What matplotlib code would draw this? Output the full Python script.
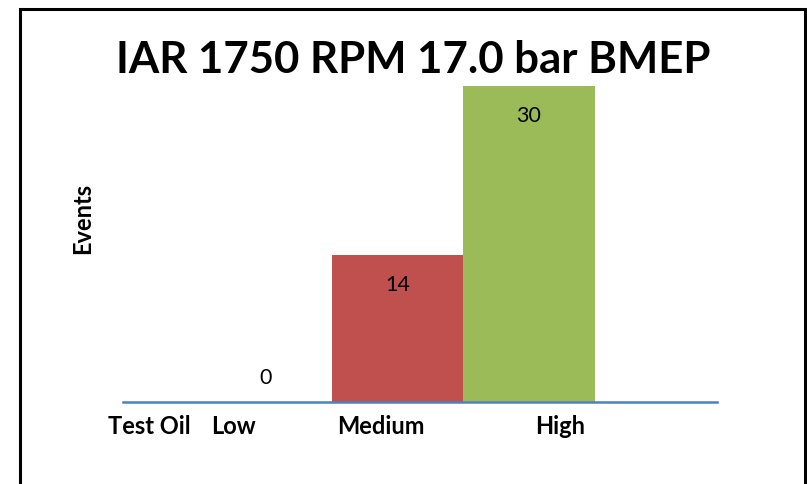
import matplotlib
matplotlib.use("Agg")
import matplotlib.pyplot as plt
from matplotlib.patches import Rectangle

categories = ["Low", "Medium", "High"]
events = [0, 14, 30]
bar_colors = ["#4f81bd", "#c0504d", "#9bbb59"]
chart_title = "IAR 1750 RPM 17.0 bar BMEP"
y_label = "Events"
x_caption = "Test Oil"
# tick labels sit a bit off the bar centres
label_shift = [-0.25, -0.13, 0.24]

plt.rcParams["font.family"] = ["Lato", "DejaVu Sans"]

W, H = 807, 484
fig = plt.figure(figsize=(W / 100, H / 100), dpi=100)

# axes box in pixels: left 123, right 717, bottom (baseline) 402, top 86
ax = fig.add_axes([123 / W, 1 - 402 / H, (717 - 123) / W, (402 - 86) / H])
spacing = 131.5
ax.set_xlim(-(266 - 123) / spacing, (717 - 266) / spacing)
ax.set_ylim(0, 30)

x = list(range(len(categories)))
ax.bar(x, events, width=1.0, color=bar_colors, zorder=2)

for xi, v in zip(x, events):
    off = -30 if v > 0 else 24
    ax.annotate(str(v), (xi, v), xytext=(0, off * 0.72), textcoords="offset points",
                ha="center", va="center", fontsize=15.5, color="black")

for s in ax.spines.values():
    s.set_visible(False)
ax.axhline(0, color="#4f81bd", lw=1.8, zorder=3, clip_on=False)
ax.set_xticks([])
ax.set_yticks([])

for xi, name, dx in zip(x, categories, label_shift):
    ax.annotate(name, (xi + dx, 0), xytext=(0, -25 * 0.72), textcoords="offset points",
                ha="center", va="center", fontsize=17, fontweight="bold")
ax.annotate(x_caption, (0, 0), xycoords=("axes fraction", "data"), xytext=(-15 * 0.72, -25 * 0.72),
            textcoords="offset points", ha="left", va="center", fontsize=17, fontweight="bold")

fig.text(413 / W, 1 - 60 / H, chart_title, ha="center", va="center",
         fontsize=31.5, fontweight="bold")
fig.text(83 / W, 1 - 218 / H, y_label, ha="center", va="center", rotation=90,
         fontsize=17, fontweight="bold")

fig.patches.append(Rectangle((20 / W, -0.1), (805 - 20) / W, 1.1 - 9 / H,
                             transform=fig.transFigure, fill=False, ec="black", lw=2.2))

fig.savefig("out.png", dpi=100)
